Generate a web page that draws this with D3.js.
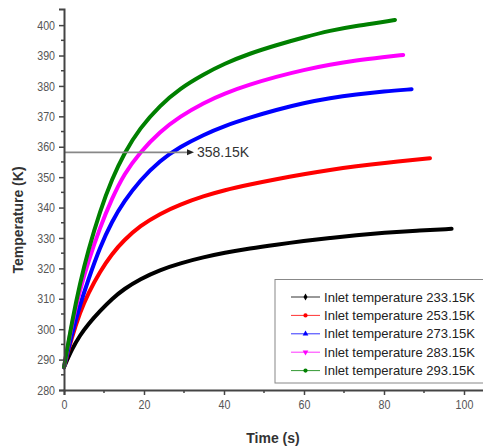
<!DOCTYPE html>
<html><head><meta charset="utf-8">
<script src="https://cdn.jsdelivr.net/npm/d3@7"></script>
<style>body{margin:0;background:#fff}svg{display:block}text{font-family:"Liberation Sans",Arial,sans-serif}</style>
</head><body>
<svg id="c" width="483" height="447"></svg>
<script>
// Data
const seriesNames = ["Inlet temperature 233.15K","Inlet temperature 253.15K","Inlet temperature 273.15K","Inlet temperature 283.15K","Inlet temperature 293.15K"];
const seriesColors = ["#000000","#ff0000","#0000ff","#ff00ff","#008000"];
const tBlack   = [0,2,4,6,9,12,15,19,24,29,35,40,46.5,53,60,66.5,73,80,88,96.9];
const vBlack   = [287.5,293.5,298,301.6,306,310,313.2,316.5,319.5,321.7,323.7,325.1,326.6,327.8,329,330,330.9,331.7,332.4,333];
const tRed     = [0,2,4,6,9,12,15,19,24,29,35,40,46.5,53,60,66.5,73,80,91.5];
const vRed     = [287.5,297.5,305.5,311.7,319,324.8,329.3,334,338,341,343.8,345.7,347.6,349.3,351,352.4,353.6,354.7,356.2];
const tBlue    = [0,2,4,6,9,12,15,19,24,29,35,40,46.5,53,60,66.5,73,80,86.9];
const vBlue    = [287.5,298.5,308,316,327,335.5,342,349,355.5,360,364,366.8,369.6,372.1,374.4,376.0,377.2,378.2,378.9];
const tMagenta = [0,2,4,6,9,12,15,19,24,29,35,40,46.5,53,60,66.5,73,80,84.8];
const vMagenta = [287.5,302,313,322,333.5,343,351,358.2,365,370,374.5,377.5,380.5,383,385.3,387,388.4,389.5,390.2];
const tGreen   = [0,2,4,6,9,12,15,19,24,29,35,40,46.5,53,60,66.5,73,80,82.75];
const vGreen   = [287.5,302.5,315.1,325.7,338.9,349.4,357.8,366.2,373.6,379.2,383.9,387.3,390.7,393.4,396,398.2,399.8,401,401.7];
const xTicks = [0,20,40,60,80,100];
const yTicks = [280,290,300,310,320,330,340,350,360,370,380,390,400];
const refValue = 358.15, refEndTime = 31.5, refLabel = "358.15K";

const seriesT = [tBlack,tRed,tBlue,tMagenta,tGreen];
const seriesV = [vBlack,vRed,vBlue,vMagenta,vGreen];

const svg = d3.select("#c");
const x = d3.scaleLinear().domain([0,105]).range([64,484]);
const y = d3.scaleLinear().domain([280,405.3]).range([390,9]);

// curves
const line = d3.line().x(d=>x(d[0])).y(d=>y(d[1])).curve(d3.curveBasis);
seriesT.forEach((ts,i)=>{
  const pts = ts.map((t,j)=>[t,seriesV[i][j]]);
  svg.append("path").attr("d",line(pts)).attr("fill","none")
    .attr("stroke",seriesColors[i]).attr("stroke-width",4).attr("stroke-linecap","round");
});

// reference line
svg.append("line").attr("x1",x(0)).attr("x2",x(refEndTime)).attr("y1",y(refValue)).attr("y2",y(refValue))
  .attr("stroke","#888").attr("stroke-width",1.6);
const ax = x(refEndTime), ay = y(refValue);
svg.append("path").attr("d",`M${ax+4},${ay} L${ax-3},${ay-3} L${ax-3},${ay+3} Z`).attr("fill","#222");
svg.append("text").attr("x",ax+7).attr("y",ay+5).attr("font-size",14).attr("fill","#333").text(refLabel);

// axes
const xAxis = d3.axisBottom(x).tickValues(xTicks).tickSize(5).tickPadding(5).tickFormat(d3.format("d"));
const gx = svg.append("g").attr("transform","translate(0,390)").call(xAxis);
const yAxis = d3.axisLeft(y).tickValues(yTicks).tickSize(5).tickPadding(4).tickFormat(d3.format("d"));
const gy = svg.append("g").attr("transform","translate(64,0)").call(yAxis);
[gx,gy].forEach(g=>{
  g.select(".domain").attr("stroke","#444").attr("stroke-width",2);
  g.selectAll(".tick line").attr("stroke","#444").attr("stroke-width",1.5);
  g.selectAll(".tick text").attr("font-size",13).attr("fill","#555").attr("font-family","Liberation Sans, Arial, sans-serif")
    .each(function(){ const w=this.getComputedTextLength(); d3.select(this).attr("textLength",w*0.82).attr("lengthAdjust","spacingAndGlyphs"); });
});
// minor ticks
const xMinor = d3.range(10,105,20);
gx.selectAll(".minor").data(xMinor).enter().append("line")
  .attr("x1",d=>x(d)).attr("x2",d=>x(d)).attr("y1",0).attr("y2",3).attr("stroke","#444").attr("stroke-width",1.5);
const yMinor = d3.range(285,405,10);
gy.selectAll(".minor").data(yMinor).enter().append("line")
  .attr("y1",d=>y(d)).attr("y2",d=>y(d)).attr("x1",0).attr("x2",-3).attr("stroke","#444").attr("stroke-width",1.5);

// axis titles
svg.append("text").attr("x",273).attr("y",443).attr("text-anchor","middle").attr("font-size",14)
  .attr("font-weight","bold").attr("fill","#333").text("Time (s)");
svg.append("text").attr("transform","translate(23,220) rotate(-90)").attr("text-anchor","middle").attr("font-size",14)
  .attr("font-weight","bold").attr("fill","#333").text("Temperature (K)");

// legend
const lg = svg.append("g");
lg.append("rect").attr("x",275).attr("y",279.5).attr("width",210).attr("height",103.5)
  .attr("fill","#fff").attr("stroke","#888").attr("stroke-width",1);
const markers = [d3.symbolDiamond, d3.symbolCircle, d3.symbolTriangle, d3.symbolTriangle, d3.symbolCircle];
seriesNames.forEach((n,i)=>{
  const yy = 297 + i*18.4;
  lg.append("line").attr("x1",291).attr("x2",320).attr("y1",yy).attr("y2",yy)
    .attr("stroke",seriesColors[i]).attr("stroke-width",1).attr("opacity",0.8);
  lg.append("path").attr("d",d3.symbol().type(markers[i]).size(14)())
    .attr("transform",`translate(305.5,${yy}) rotate(${i===3?180:0})`).attr("fill",seriesColors[i]);
  lg.append("text").attr("x",324).attr("y",yy+4.5).attr("font-size",13).attr("fill","#222")
    .attr("textLength",151).attr("lengthAdjust","spacingAndGlyphs").text(n);
});
</script>
</body></html>
